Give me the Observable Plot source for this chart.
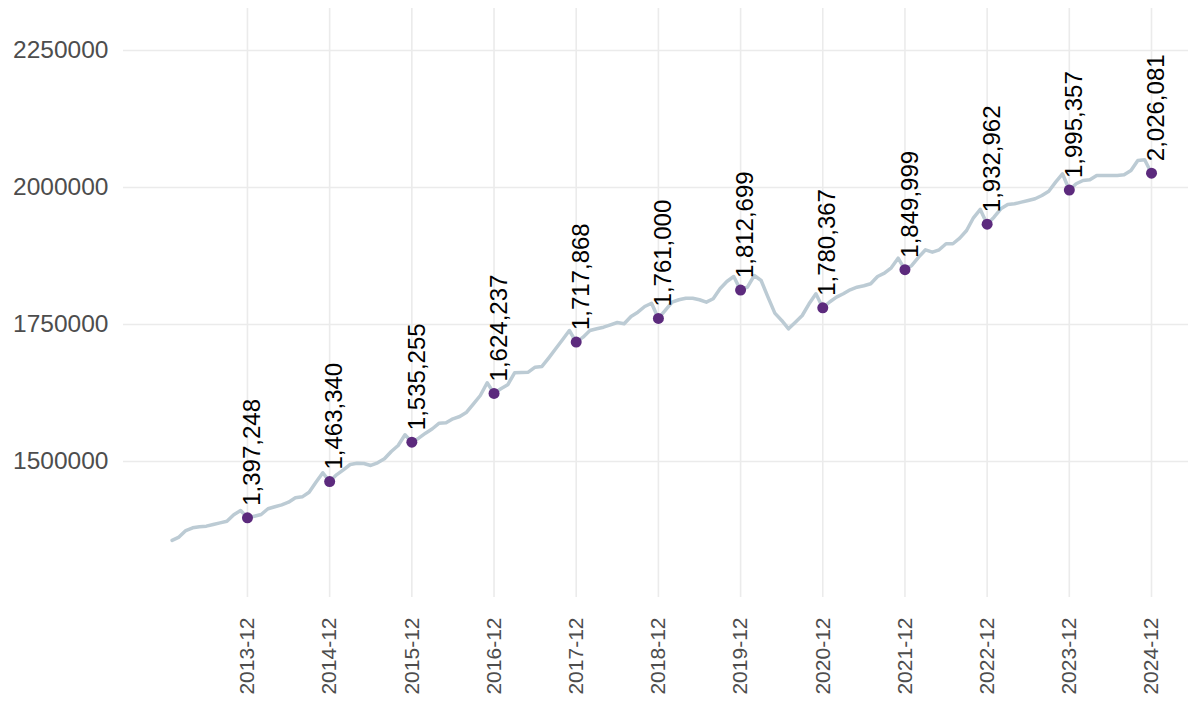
<!DOCTYPE html>
<html><head><meta charset="utf-8">
<script src="https://cdn.jsdelivr.net/npm/d3@7"></script>
<script src="https://cdn.jsdelivr.net/npm/@observablehq/plot@0.6"></script>
<style>body{margin:0;background:#fff;overflow:hidden}</style>
</head><body><div id="chart"></div>
<script>
// Monthly values, 2013-01 … 2024-12
const values = [
  1356000,1362000,1374000,1379000,1381000,1382000,1385000,1388000,1391000,1403000,1410600,1397248,
  1400200,1403300,1413700,1417300,1420900,1425700,1433700,1435500,1443900,1462100,1479400,1463340,
  1475700,1484800,1494500,1496900,1496400,1492700,1497600,1504900,1518300,1529200,1548700,1535255,
  1542600,1551700,1559700,1569900,1570600,1577900,1582100,1590000,1605300,1620400,1643600,1624237,
  1632700,1640000,1661900,1662400,1663000,1672100,1673400,1689200,1705700,1722100,1739000,1717868,
  1726900,1739000,1742100,1745000,1749400,1753600,1751300,1764600,1772500,1782800,1788800,1761000,
  1775600,1790700,1795100,1798000,1798000,1795100,1790700,1796900,1815100,1828500,1837600,1812699,
  1818100,1839400,1830300,1799800,1770700,1757300,1742100,1754200,1766400,1787700,1806000,1780367,
  1791000,1799800,1806000,1813300,1818100,1820600,1824300,1837600,1843600,1853500,1871000,1849999,
  1857700,1872800,1886300,1881900,1886300,1897300,1897300,1907500,1921500,1944700,1959900,1932962,
  1945800,1961100,1969000,1970200,1973200,1976300,1979400,1985400,1993200,2009700,2025000,1995357,
  2006800,2012800,2014000,2021900,2021900,2021900,2021900,2023200,2031000,2049300,2050500,2026081
];
const tickLabels = ["2013-12","2014-12","2015-12","2016-12","2017-12","2018-12","2019-12","2020-12","2021-12","2022-12","2023-12","2024-12"];
const decValues = [1397248,1463340,1535255,1624237,1717868,1761000,1812699,1780367,1849999,1932962,1995357,2026081];
const yTicks = [1500000,1750000,2000000,2250000];

const data = values.map((v, i) => ({i, v}));
const decIdx = tickLabels.map((t) => (+t.slice(0, 4) - 2013) * 12 + (+t.slice(5) - 1));
const decData = decValues.map((v, k) => ({i: decIdx[k], v, label: d3.format(",")(v)}));

const gridStyle = {stroke: "#ebebeb", strokeOpacity: 1, strokeWidth: 1.6};
const chart = Plot.plot({
  width: 1194, height: 706,
  marginLeft: 123, marginRight: 6, marginTop: 8, marginBottom: 109,
  style: {fontFamily: "'Liberation Sans', Arial, sans-serif", background: "#fff"},
  x: {type: "linear", domain: [-7.1, 148.4]},
  y: {domain: [1251800, 2326600]},
  marks: [
    Plot.gridY(yTicks, gridStyle),
    Plot.gridX(decIdx, gridStyle),
    Plot.axisY(yTicks, {tickSize: 0, tickPadding: 15, fontSize: 24.5, color: "#4d4d4d", tickFormat: (d) => String(d), label: null}),
    Plot.axisX(decIdx, {tickSize: 0, tickPadding: 20, tickRotate: -90, fontSize: 21, color: "#4d4d4d",
      tickFormat: (d) => tickLabels[decIdx.indexOf(d)], label: null}),
    Plot.lineY(data, {x: "i", y: "v", stroke: "#bccbd4", strokeWidth: 3.5}),
    Plot.dot(decData, {x: "i", y: "v", r: 5.5, fill: "#5c2a7d"}),
    Plot.text(decData, {x: "i", y: "v", text: "label", rotate: -90, textAnchor: "start", lineAnchor: "middle",
      dx: 5, dy: -12, fontSize: 24, fill: "#000"})
  ]
});
document.getElementById("chart").append(chart);
</script>
</body></html>
